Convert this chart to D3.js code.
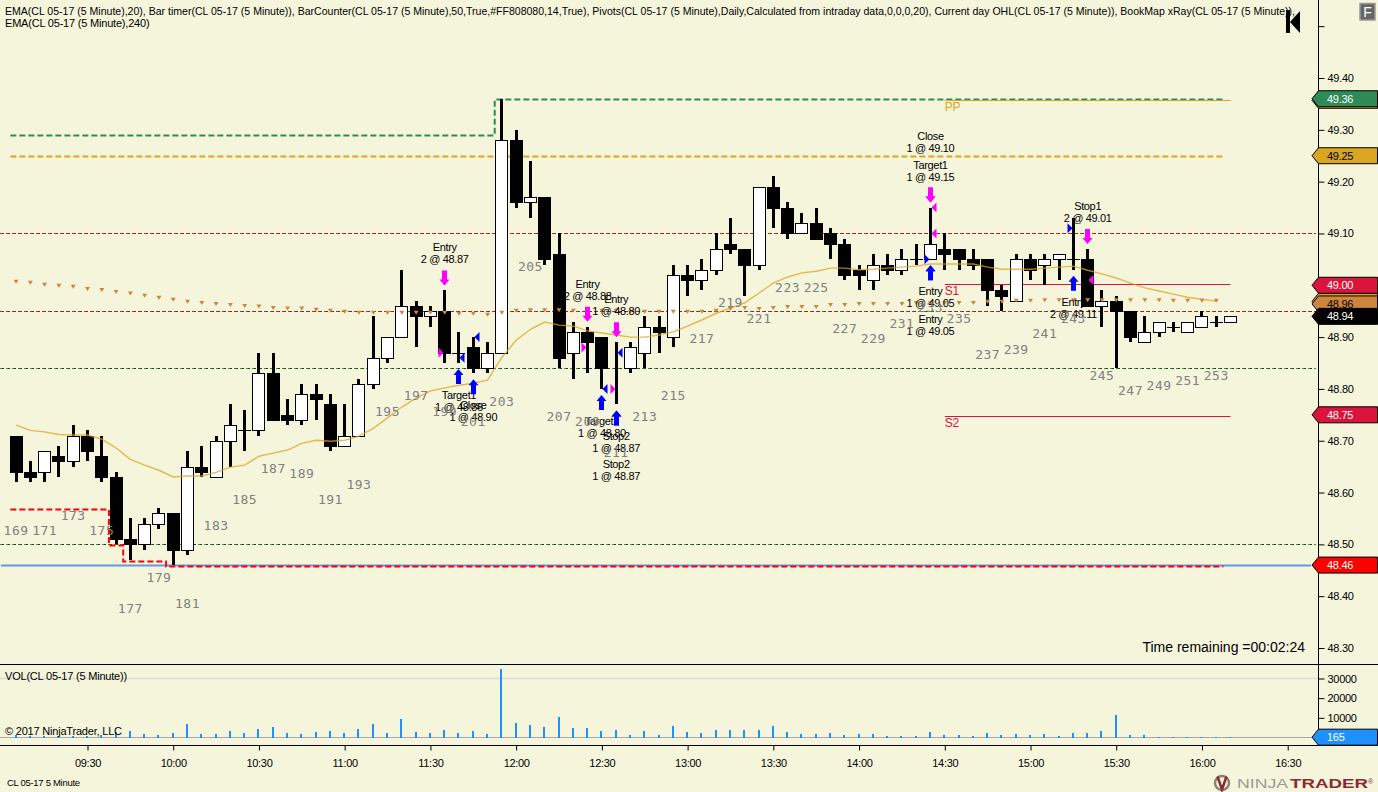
<!DOCTYPE html>
<html>
<head>
<meta charset="utf-8">
<script src="https://d3js.org/d3.v7.min.js"></script>
<style>
    html, body { margin: 0; padding: 0; background: #F5F5DC; overflow: hidden; }
    svg { display: block; }
    text { font-family: "Liberation Sans", Arial, sans-serif; font-size: 11px; letter-spacing: -0.35px; fill: #000; }
    .axis path, .axis line { stroke: #000; }
    .axis text { font-family: "Liberation Sans", Arial, sans-serif; font-size: 11px; letter-spacing: -0.3px; }
    .counter { font-family: "DejaVu Sans Mono", monospace; font-size: 13px; letter-spacing: 0.5px; fill: #808080; }
</style>
</head>
<body>
<div id="chart"></div>
<script>
// bars 169..254, five minutes each, first one closes at 09:05
const firstBar = 169;
const opens = [48.71,48.64,48.64,48.67,48.66,48.71,48.67,48.63,48.51,48.50,48.54,48.56,48.49,48.65,48.63,48.70,48.72,48.72,48.83,48.75,48.74,48.79,48.77,48.69,48.71,48.81,48.86,48.90,48.96,48.94,48.95,48.87,48.88,48.84,48.87,49.28,49.16,49.17,49.06,48.87,48.91,48.90,48.87,48.84,48.87,48.92,48.90,49.02,49.01,49.03,49.08,49.07,49.04,49.19,49.15,49.10,49.12,49.10,49.08,49.03,49.01,49.04,49.03,49.05,49.05,49.07,49.07,49.05,49.05,48.99,48.97,49.05,49.04,49.05,49.05,49.05,48.96,48.97,48.95,48.89,48.91,48.92,48.91,48.92,48.93,48.93];
const highs = [48.71,48.66,48.68,48.69,48.73,48.72,48.71,48.64,48.55,48.55,48.57,48.56,48.68,48.69,48.71,48.77,48.76,48.87,48.87,48.78,48.81,48.81,48.79,48.77,48.82,48.94,48.90,49.03,48.97,48.96,48.99,48.91,48.90,48.89,49.36,49.30,49.24,49.17,49.10,48.93,48.92,48.90,48.89,48.89,48.94,48.94,49.04,49.04,49.05,49.10,49.13,49.07,49.19,49.21,49.16,49.14,49.15,49.11,49.09,49.04,49.06,49.06,49.07,49.08,49.15,49.10,49.07,49.07,49.05,49.00,49.06,49.06,49.06,49.06,49.13,49.07,48.99,48.98,48.95,48.94,48.93,48.93,48.93,48.95,48.94,48.94];
const lows = [48.62,48.62,48.62,48.63,48.65,48.66,48.62,48.50,48.47,48.49,48.53,48.46,48.48,48.63,48.63,48.65,48.68,48.71,48.74,48.73,48.73,48.74,48.68,48.69,48.71,48.80,48.85,48.90,48.88,48.92,48.85,48.85,48.83,48.83,48.87,49.15,49.13,49.04,48.84,48.82,48.83,48.80,48.77,48.83,48.84,48.87,48.88,48.98,48.99,49.02,49.06,48.98,49.03,49.11,49.09,49.10,49.09,49.05,49.01,48.99,48.99,49.02,49.02,49.04,49.05,49.03,49.03,49.03,48.96,48.95,48.97,49.01,49.00,49.01,49.03,48.96,48.92,48.84,48.89,48.89,48.90,48.91,48.91,48.92,48.92,48.93];
const closes = [48.64,48.63,48.68,48.66,48.71,48.68,48.63,48.51,48.50,48.54,48.56,48.49,48.65,48.64,48.70,48.73,48.72,48.83,48.74,48.74,48.79,48.78,48.69,48.71,48.81,48.86,48.90,48.96,48.94,48.95,48.87,48.87,48.84,48.87,49.28,49.16,49.17,49.05,48.86,48.91,48.89,48.84,48.87,48.88,48.92,48.91,49.02,49.01,49.03,49.07,49.07,49.04,49.19,49.15,49.10,49.12,49.09,49.08,49.02,49.02,49.04,49.03,49.05,49.05,49.08,49.06,49.05,49.04,48.99,48.98,49.05,49.03,49.05,49.06,49.05,48.96,48.97,48.95,48.90,48.91,48.93,48.92,48.93,48.94,48.93,48.94];
const noDash = [211];

const ema20 = [48.730,48.720,48.717,48.712,48.711,48.711,48.703,48.686,48.664,48.653,48.643,48.630,48.632,48.632,48.639,48.649,48.653,48.670,48.676,48.682,48.695,48.701,48.699,48.701,48.709,48.724,48.744,48.765,48.782,48.796,48.802,48.807,48.811,48.817,48.861,48.894,48.915,48.929,48.923,48.921,48.912,48.908,48.904,48.900,48.900,48.904,48.910,48.921,48.933,48.946,48.956,48.966,48.985,49.004,49.016,49.024,49.027,49.033,49.033,49.030,49.031,49.033,49.035,49.037,49.041,49.041,49.041,49.041,49.035,49.031,49.031,49.031,49.033,49.035,49.037,49.029,49.022,49.014,49.004,48.995,48.989,48.983,48.977,48.973,48.969];
const ema240 = [49.007,49.005,49.001,48.999,48.997,48.993,48.991,48.987,48.984,48.980,48.976,48.972,48.968,48.966,48.964,48.962,48.960,48.959,48.956,48.955,48.955,48.953,48.951,48.949,48.947,48.947,48.947,48.947,48.947,48.947,48.947,48.945,48.945,48.943,48.947,48.951,48.952,48.952,48.952,48.951,48.951,48.951,48.951,48.949,48.949,48.949,48.949,48.949,48.949,48.951,48.954,48.956,48.954,48.956,48.958,48.958,48.958,48.962,48.962,48.964,48.964,48.964,48.964,48.966,48.966,48.966,48.966,48.966,48.968,48.968,48.970,48.970,48.971,48.971,48.971,48.971,48.971,48.971,48.971,48.971,48.971,48.970,48.970,48.970,48.970];

const volumes = [1190,850,850,510,680,680,1020,2890,3230,1700,1190,2210,6800,1700,1700,3230,2210,4250,5270,2210,1700,2720,3230,2210,4250,6800,2210,9350,2720,2210,3740,2210,3230,1700,34850,7310,6290,5270,10370,4760,4760,3230,3740,1190,3230,1190,5780,2720,2210,3740,3740,3740,3740,5780,2720,1700,1700,2210,1190,1700,1700,680,680,680,2720,1190,1190,680,2210,1190,1700,1190,1700,680,2210,2210,3230,11390,1190,1190,340,340,340,340,340,165];

const priceTicks = [49.5,49.4,49.3,49.2,49.1,49.0,48.9,48.8,48.7,48.6,48.5,48.4,48.3];
const volTicks = [30000,20000,10000];
const timeTicks = ["09:30","10:00","10:30","11:00","11:30","12:00","12:30","13:00","13:30","14:00","14:30","15:00","15:30","16:00","16:30"];

// bars where the stepped day levels change, and the level in each step
const dayHighBreaks = [168.6,202.5,253.5];
const dayHighLevels = [49.29,49.36];
const dayLowBreaks = [168.6,175.5,176.5,179.5,253.5];
const dayLowLevels = [48.57,48.50,48.47,48.46];
const dayOpen = 49.25;
const dayLow = 48.46;
const redLevels = [49.10,48.95];
const greenLevels = [48.84,48.50];

const pivotNames = ["PP","S1","S2"];
const pivotValues = [49.357,49.003,48.747];
const pivotStart = 234;
const pivotEnd = 254;

// labelled executions
const execBars = [199,200,201,209,210,211,211,211,233,233,233,233,243,244];
const execSides = ["down","up","up","down","up","down","up","up","down","down","up","up","up","down"];
const execNames = ["Entry","Target1","Close","Entry","Target1","Entry","Stop2","Stop2","Target1","Close","Entry","Entry","Entry","Stop1"];
const execFills = ["2 @ 48.87","1 @ 48.86","1 @ 48.90","2 @ 48.88","1 @ 48.80","1 @ 48.80","1 @ 48.87","1 @ 48.87","1 @ 49.15","1 @ 49.10","1 @ 49.05","1 @ 49.05","2 @ 49.11","2 @ 49.01"];
const execStack = [0,0,0,0,0,0,0,1,0,1,0,1,0,0];

// small fill triangles on the bars
const fillBars = [199,200,201,209,210,211,211,233,233,233,243,244];
const fillPrices = [48.87,48.86,48.90,48.88,48.80,48.80,48.87,49.15,49.10,49.05,49.11,49.01];
const fillActions = ["sell","buy","buy","sell","buy","sell","buy","sell","sell","buy","buy","sell"];
const fillPoints = ["right","left","left","right","left","right","left","left","left","right","right","left"];

const tagValues = [49.357,49.36,49.25,48.969,48.964,49.00,48.94,48.75,48.46];
const tagNames = ["pp","high","open","ema20","ema240","s1","last","s2","low"];
const lastVolume = 165;

const legendLine1 = "EMA(CL 05-17 (5 Minute),20), Bar timer(CL 05-17 (5 Minute)), BarCounter(CL 05-17 (5 Minute),50,True,#FF808080,14,True), Pivots(CL 05-17 (5 Minute),Daily,Calculated from intraday data,0,0,0,20), Current day OHL(CL 05-17 (5 Minute)), BookMap xRay(CL 05-17 (5 Minute)),";
const legendLine2 = "EMA(CL 05-17 (5 Minute),240)";

const width = 1378, height = 792;
const axisX = 1318.5, panelY = 664.5, bottomY = 745.5;
const gold = "#DAA520", crimson = "#DC143C";

const tagStyle = {
    pp: [gold, "#000"], high: ["#2E8B57", "#fff"], open: [gold, "#000"], ema20: [gold, "#000"],
    ema240: ["#CD853F", "#000"], s1: [crimson, "#fff"], last: ["#000", "#fff"], s2: [crimson, "#fff"], low: ["#FF0000", "#fff"]
};

const clock = s => new Date(2017, 2, 1, +s.slice(0, 2), +s.slice(3));
const barTime = n => new Date(+clock("09:05") + (n - firstBar) * 300000);

const x = d3.scaleTime().domain([clock("09:05"), clock("16:30")]).range([16.06, 1287.7]);
const y = d3.scaleLinear().domain([49.4, 48.3]).range([78, 648]);
const yVol = d3.scaleLinear().domain([0, 30000]).range([737.5, 678.5]);
const xb = n => x(barTime(n));
const xPixel = n => Math.floor(xb(n));

const svg = d3.select("#chart").append("svg").attr("width", width).attr("height", height);

const bars = opens.map((o, i) => ({bar: firstBar + i, o: o, h: highs[i], l: lows[i], c: closes[i], v: volumes[i]}));

// level lines sit behind the candles
function hLine(g, price, x0, x1, color, w, dash, off) {
    g.append("line").attr("x1", x0).attr("x2", x1).attr("y1", Math.round(y(price)) + 0.5).attr("y2", Math.round(y(price)) + 0.5)
        .attr("stroke", color).attr("stroke-width", w).attr("stroke-dasharray", dash || null).attr("stroke-dashoffset", off || 0);
}

const levels = svg.append("g");
redLevels.forEach(p => {
    hLine(levels, p, 0, 1316, "#d81e1e", 1, "4,2");
    hLine(levels, p, 0, 1316, "#4a4030", 1, "2,4", 4);
});
greenLevels.forEach(p => {
    hLine(levels, p, 0, 1316, "#1f9a2e", 1, "4,2");
    hLine(levels, p, 0, 1316, "#2a3a2a", 1, "2,4", 4);
});

hLine(levels, dayOpen, xb(dayLowBreaks[0]), xb(253.5), gold, 2, "6,3");
hLine(levels, dayLow, 1, 1311, "#6495ED", 2);

const stepLine = d3.line().curve(d3.curveStepAfter).x(d => xb(d[0])).y(d => Math.round(y(d[1])) + 0.5);
const stepData = (breaks, vals) => breaks.map((b, i) => [b, vals[Math.min(i, vals.length - 1)]]);

levels.append("path").datum(stepData(dayHighBreaks, dayHighLevels)).attr("d", stepLine)
    .attr("fill", "none").attr("stroke", "#2E8B57").attr("stroke-width", 2).attr("stroke-dasharray", "6,3");
levels.append("path").datum(stepData(dayLowBreaks, dayLowLevels)).attr("d", stepLine)
    .attr("transform", "translate(0,1)")
    .attr("fill", "none").attr("stroke", "#FF0000").attr("stroke-width", 2).attr("stroke-dasharray", "6,3");

pivotNames.forEach((name, i) => {
    const color = name === "PP" ? gold : crimson;
    hLine(levels, pivotValues[i], xb(pivotStart), xb(pivotEnd), color, 1);
    levels.append("text").attr("x", xb(pivotStart)).attr("y", y(pivotValues[i]) + 11)
        .style("fill", color).style("font-size", "12px").text(name);
});

// candles
const candles = svg.append("g").attr("shape-rendering", "crispEdges");
candles.selectAll(".wick").data(bars).join("rect").attr("class", "wick")
    .attr("x", d => xPixel(d.bar) - 1).attr("width", 3)
    .attr("y", d => y(d.h)).attr("height", d => y(d.l) - y(d.h)).attr("fill", "#000");

candles.selectAll(".body").data(bars.filter(d => d.o !== d.c)).join("rect").attr("class", "body")
    .attr("x", d => xPixel(d.bar) - 6 + 0.5).attr("width", 12)
    .attr("y", d => Math.round(y(Math.max(d.o, d.c))) + 0.5)
    .attr("height", d => Math.round(y(Math.min(d.o, d.c))) - Math.round(y(Math.max(d.o, d.c))))
    .attr("fill", d => d.c > d.o ? "#fff" : "#000").attr("stroke", "#000");

candles.selectAll(".doji").data(bars.filter(d => d.o === d.c && !noDash.includes(d.bar))).join("rect").attr("class", "doji")
    .attr("x", d => xPixel(d.bar) - 6).attr("width", 13)
    .attr("y", d => Math.round(y(d.c))).attr("height", 1).attr("fill", "#000");

// volume
const volPanel = svg.append("g");
volPanel.append("line").attr("x1", 0).attr("x2", axisX).attr("y1", yVol(30000)).attr("y2", yVol(30000))
    .attr("stroke", "#dcdcd0").attr("stroke-width", 1.5);
volPanel.append("line").attr("x1", 0).attr("x2", 1312).attr("y1", yVol(0)).attr("y2", yVol(0))
    .attr("stroke", "#A9A9A9").attr("stroke-width", 1);
volPanel.selectAll(".vol").data(bars).join("rect").attr("class", "vol").attr("shape-rendering", "crispEdges")
    .attr("x", d => xPixel(d.bar) - 1).attr("width", 2)
    .attr("y", d => yVol(d.v)).attr("height", d => yVol(0) - yVol(d.v)).attr("fill", "#1E90FF");

// EMA lines go over the candles
const emaLine = d3.line().x((d, i) => xb(firstBar + i)).y(d => y(d));
svg.append("path").datum(ema20).attr("d", emaLine).attr("fill", "none")
    .attr("stroke", gold).attr("stroke-width", 1.4).attr("stroke-opacity", 0.75);

svg.append("g").selectAll("path").data(ema240).join("path")
    .attr("d", (d, i) => {
        const px = xb(firstBar + i), py = y(d);
        return "M" + (px - 2.5) + "," + (py - 2) + "h5l-2.5,4z";
    })
    .attr("fill", "#CD853F");

// execution arrows and their two line labels
const arrowColor = {up: "#0000FF", down: "#FF00FF"};
const lineGap = 12, stackGap = {up: 28, down: 29};
const execs = svg.append("g");
execBars.forEach((b, i) => {
    const bar = bars[b - firstBar], cx = xPixel(b) + 0.5, side = execSides[i];
    const tipY = side === "up" ? y(bar.l) + 6 : y(bar.h) - 5;
    const dir = side === "up" ? 1 : -1;
    execs.append("path")
        .attr("d", "M" + cx + "," + tipY + "l5," + (6 * dir) + "h-2.5v" + (9 * dir) + "h-5v" + (-9 * dir) + "h-2.5z")
        .attr("fill", arrowColor[side]);

    // first line centre measured from the arrow's far end
    const top = side === "up"
        ? tipY + 15 + 11 + execStack[i] * stackGap.up
        : tipY - 15 - 11 - lineGap - execStack[i] * stackGap.down;
    execs.append("text").attr("x", xb(b)).attr("y", top + 4).attr("text-anchor", "middle").text(execNames[i]);
    execs.append("text").attr("x", xb(b)).attr("y", top + 4 + lineGap).attr("text-anchor", "middle").text(execFills[i]);
});

svg.append("g").selectAll("path").data(fillBars).join("path")
    .attr("d", (b, i) => {
        const dir = fillPoints[i] === "right" ? -1 : 1;
        const tip = xPixel(b) + 0.5 + (dir > 0 ? 1 : -1);
        return "M" + tip + "," + y(fillPrices[i]) + "l" + (5 * dir) + ",-5v10z";
    })
    .attr("fill", (b, i) => fillActions[i] === "buy" ? "#0000FF" : "#FF00FF");

// bar counter, printed under the low of every other bar
svg.append("g").selectAll("text").data(bars.filter(d => d.bar % 2 === 1)).join("text")
    .attr("class", "counter").attr("text-anchor", "middle")
    .attr("x", d => xb(d.bar)).attr("y", d => y(d.l) + 53).text(d => d.bar);

// axes
svg.append("g").attr("class", "axis").attr("transform", "translate(" + axisX + ",0)")
    .call(d3.axisRight(y).tickValues(priceTicks).tickSize(6).tickPadding(3)
        .tickFormat(d => d === 49.5 ? "" : d3.format(".2f")(d)))
    .call(g => g.select(".domain").remove());

svg.append("g").attr("class", "axis").attr("transform", "translate(" + axisX + ",0)")
    .call(d3.axisRight(yVol).tickValues(volTicks).tickSize(6).tickPadding(3).tickFormat(d3.format("d")))
    .call(g => g.select(".domain").remove());

svg.append("g").attr("class", "axis").attr("transform", "translate(0," + bottomY + ")")
    .call(d3.axisBottom(x).tickValues(timeTicks.map(clock)).tickSize(5).tickPadding(9).tickFormat(d3.timeFormat("%H:%M")))
    .call(g => g.select(".domain").remove());

svg.append("line").attr("x1", axisX).attr("x2", axisX).attr("y1", 0).attr("y2", bottomY).attr("stroke", "#000");
svg.append("line").attr("x1", 0).attr("x2", width).attr("y1", panelY).attr("y2", panelY).attr("stroke", "#000");
svg.append("line").attr("x1", 0).attr("x2", width).attr("y1", bottomY).attr("y2", bottomY).attr("stroke", "#000");

// value tags on the right axis
function tag(cy, fill, textFill, label) {
    const g = svg.append("g");
    g.append("path")
        .attr("d", "M1312," + cy + "L1318.5," + (cy - 8) + "H1377.5V" + (cy + 8) + "H1318.5Z")
        .attr("fill", fill).attr("stroke", "#000");
    g.append("text").attr("x", 1327).attr("y", cy + 4).style("fill", textFill).style("letter-spacing", "-0.3px").text(label);
}
tagValues.forEach((v, i) => {
    const st = tagStyle[tagNames[i]];
    tag(y(v), st[0], st[1], d3.format(".2f")(v));
});
tag(yVol(lastVolume), "#1E90FF", "#fff", lastVolume);

// texts
svg.append("text").attr("x", 5).attr("y", 15).attr("textLength", 1290).attr("lengthAdjust", "spacingAndGlyphs")
    .style("letter-spacing", "0").text(legendLine1);
svg.append("text").attr("x", 5).attr("y", 27).style("letter-spacing", "-0.2px").text(legendLine2);
svg.append("text").attr("x", 5).attr("y", 680).style("letter-spacing", "-0.2px").text("VOL(CL 05-17 (5 Minute))");
svg.append("text").attr("x", 5).attr("y", 735).style("letter-spacing", "-0.2px").text("© 2017 NinjaTrader, LLC");
svg.append("text").attr("x", 7).attr("y", 786).style("font-size", "9.5px").style("letter-spacing", "-0.3px").text("CL 05-17 5 Minute");
svg.append("text").attr("x", 1305).attr("y", 652).attr("text-anchor", "end")
    .style("font-size", "14px").style("letter-spacing", "0").text("Time remaining =00:02:24");

// collapse icon and F button
svg.append("path").attr("d", "M1286,10h4v23h-4zM1290,22l10,-11v22z").attr("fill", "#000");
svg.append("rect").attr("x", 1360).attr("y", 3.5).attr("width", 15).attr("height", 16.5)
    .attr("fill", "#666").attr("stroke", "#999").attr("stroke-width", 1.5);
svg.append("text").attr("x", 1367.5).attr("y", 17).attr("text-anchor", "middle")
    .style("fill", "#fff").style("font-size", "14px").style("letter-spacing", "0").text("F");

// NinjaTrader logo
svg.append("circle").attr("cx", 1222).attr("cy", 783).attr("r", 7).attr("fill", "none").attr("stroke", "#8a8078").attr("stroke-width", 2.5);
svg.append("path").attr("d", "M1217.5,776.5l4.5,13l4.5,-13").attr("fill", "none").attr("stroke", "#8B2A33").attr("stroke-width", 2.5);
svg.append("text").attr("x", 1237).attr("y", 788).attr("textLength", 51).attr("lengthAdjust", "spacingAndGlyphs")
    .style("font-size", "13.5px").style("letter-spacing", "0").style("fill", "#999").text("NINJA");
svg.append("text").attr("x", 1290).attr("y", 788).attr("textLength", 78).attr("lengthAdjust", "spacingAndGlyphs")
    .style("font-size", "13.5px").style("letter-spacing", "0").style("font-weight", "bold").style("fill", "#8B2A33").text("TRADER");
svg.append("text").attr("x", 1368).attr("y", 784).style("font-size", "7px").style("fill", "#8B2A33").text("®");
</script>
</body>
</html>
